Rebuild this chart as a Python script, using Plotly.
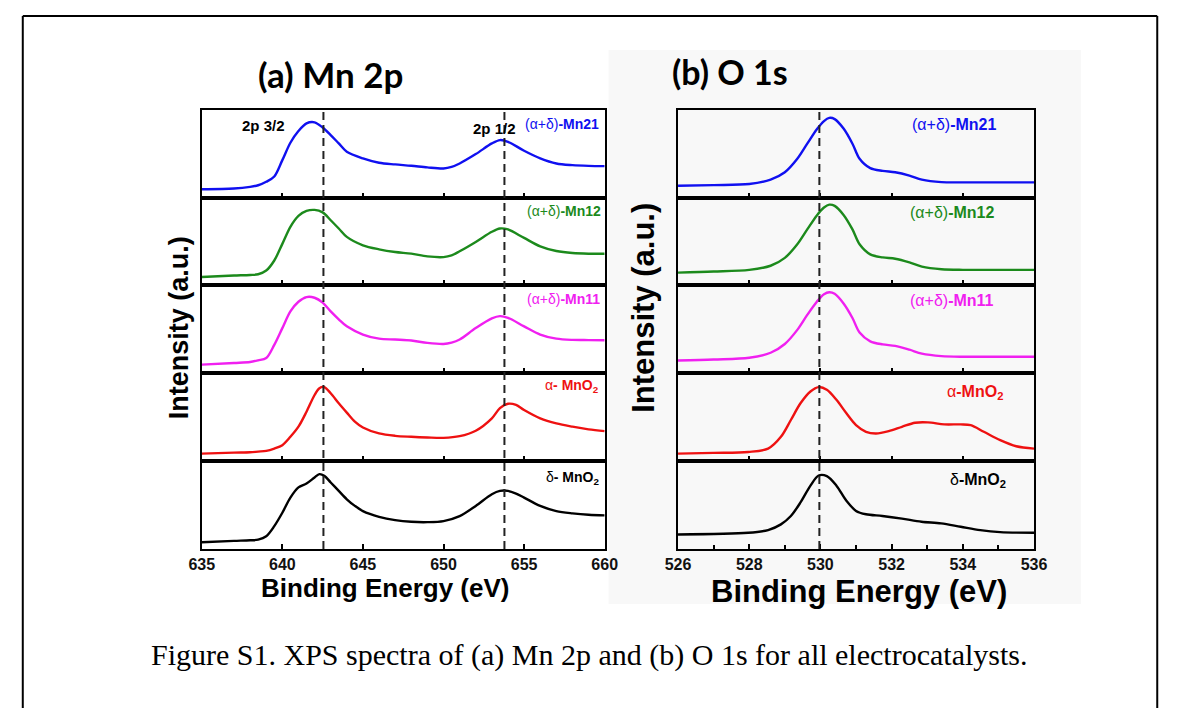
import plotly.graph_objects as go

W, H = 1181, 708

# ---------------- data ----------------
# (a) Mn 2p
be_mn = [635, 637, 638, 638.5, 639, 639.5, 640, 640.5, 641, 641.5, 642, 642.5, 643, 643.5, 644,
         645, 646, 647, 648, 649, 650, 650.5, 651, 652, 653, 653.5, 654, 655, 656, 657, 658, 659, 660]
mn_mn21 = [9.5, 10.3, 12.2, 14, 18, 24, 42.7, 62.6, 76, 84.7, 85.9, 80, 71.4, 61.8, 52.3,
           44.7, 39.7, 37.8, 36.3, 34.4, 33.2, 35, 38.9, 49.6, 61.8, 65.6, 63.7, 53.4, 44.7, 38.9, 37, 36.2, 35.9]
mn_mn12 = [9.2, 10.8, 11.5, 12.3, 16.5, 28, 47, 66.5, 79, 84.6, 85.8, 83, 74, 64.6, 55,
           45.4, 40.8, 37.7, 35.8, 32.7, 31.9, 33.8, 38.5, 49.2, 60.8, 64.6, 63.5, 53.8, 44.2, 38.8, 36.5, 35.8, 35.8]
mn_mn11 = [9.5, 11.4, 12.5, 14.4, 17, 32, 51, 70, 81, 86.3, 85.5, 80, 70, 61, 53,
           43.7, 39, 38, 36.9, 34.2, 33, 34.5, 38, 51, 62, 64.6, 62.7, 53, 43.7, 39, 37.6, 37.4, 37.3]
be_mn2 = [635, 637, 638, 638.5, 639, 639.5, 640, 640.5, 641, 641.5, 642, 642.3, 642.6, 643, 643.5, 644, 644.5,
          645, 646, 647, 648, 649, 650, 651, 652, 653, 653.5, 654, 654.5, 655, 656, 657, 658, 659, 660]
mn_alpha = [8.4, 9.5, 9.9, 10.7, 11.5, 14.1, 18, 27.5, 39, 56, 75, 82.8, 84, 77, 65.6, 55, 44.7,
            38, 31.3, 28.6, 27.5, 26.7, 26.3, 28.2, 34.4, 48.5, 60, 65, 63.7, 58, 48.5, 42.7, 39, 36, 34]
mn_delta = [7.6, 9.2, 9.9, 10.7, 14.5, 26, 41.2, 58.4, 70, 74.4, 81.3, 85.1, 83.2, 75.6, 66, 56.5, 49,
            43.1, 36.6, 32.8, 30.9, 30.5, 31.7, 37.4, 48.9, 62.2, 66, 66, 63, 58.4, 48.9, 43.1, 40.5, 38.9, 38.2]
mn_ref_lines = [642.55, 653.78]
mn_ticks = [640, 645, 650, 655]
mn_labels = [635, 640, 645, 650, 655, 660]

# (b) O 1s
be_o = [526, 527, 528, 528.6, 529, 529.35, 529.63, 529.9, 530.1, 530.25, 530.4, 530.65, 530.9,
        531.1, 531.4, 531.75, 532.1, 532.5, 532.85, 533.4, 534, 535, 536]
o_mn21 = [13.5, 14.2, 15.4, 20.4, 28.8, 44.2, 61.5, 78, 87.3, 91, 89.6, 78.8, 61.5,
          44.2, 33.5, 30.4, 28.8, 25, 20.4, 17.6, 17.3, 17.3, 17.3]
o_mn12 = [14.2, 15.4, 17.3, 22, 31, 46.5, 63.5, 79.5, 88.5, 91.8, 90.4, 80, 63.5,
          46.5, 35, 31.5, 30, 25.8, 21, 18, 17.3, 17.3, 17.3]
o_mn11 = [14.2, 15.4, 17.3, 23, 33, 49, 66, 81, 89.5, 91.8, 90, 79, 62.5,
          46, 36, 32.5, 30.8, 26.5, 22, 19.2, 18.5, 18.5, 18.5]
be_o2 = [526, 527, 527.97, 528.53, 528.89, 529.17, 529.44, 529.72, 529.95, 530.18, 530.45, 530.73, 531.0,
         531.28, 531.56, 531.92, 532.29, 532.66, 533.02, 533.48, 533.94, 534.22, 534.59, 535.05, 535.5, 536]
o_alpha = [8.4, 9.2, 10.3, 14.1, 27.5, 46.6, 65.6, 79, 84, 80.9, 69.5, 54.2, 40.8,
           33.2, 31.3, 34, 38.9, 43.5, 43.9, 41.6, 41.6, 40.8, 33.2, 23.7, 16.8, 14.1]
be_o3 = [526, 527.97, 528.53, 528.89, 529.17, 529.44, 529.72, 529.95, 530.18, 530.45, 530.73,
         531.0, 531.28, 531.74, 532.29, 532.84, 533.39, 533.94, 534.49, 535.05, 536]
o_delta = [16.5, 18.4, 21.5, 28, 37.5, 52.9, 72, 83.5, 82.8, 72, 54.8,
           43.3, 39.5, 37.5, 34.5, 31, 29.1, 25.3, 21.5, 19.2, 18.4]
o_ref_lines = [529.97]
o_ticks = [528, 530, 532, 534]
o_labels = [526, 528, 530, 532, 534, 536]

series_names = ["(α+δ)-Mn21", "(α+δ)-Mn12", "(α+δ)-Mn11", "α-MnO2", "δ-MnO2"]
colors = ["#1010f0", "#1c8a1c", "#f020f0", "#ee1111", "#000000"]

mn_x = [be_mn, be_mn, be_mn, be_mn2, be_mn2]
mn_y = [mn_mn21, mn_mn12, mn_mn11, mn_alpha, mn_delta]
o_x = [be_o, be_o, be_o, be_o2, be_o3]
o_y = [o_mn21, o_mn12, o_mn11, o_alpha, o_delta]

# ---------------- layout geometry (pixels) ----------------
row_px = [110, 197.5, 285, 373, 461, 549]
left_px = (193, 605)
right_px = (680, 1044)


def px(x):
    return x / W


def py(y):
    return 1 - y / H


fig = go.Figure()
layout = dict(
    width=W, height=H, autosize=False, margin=dict(l=0, r=0, t=0, b=0),
    paper_bgcolor="white", plot_bgcolor="rgba(0,0,0,0)", showlegend=False,
)

ax_common = dict(showline=True, mirror=True, linecolor="black", linewidth=2,
                 showgrid=False, zeroline=False)
tick_font = dict(family="Liberation Sans", size=16, color="#111", weight="bold")

for panel in range(2):
    xs_all = mn_x if panel == 0 else o_x
    ys_all = mn_y if panel == 0 else o_y
    xr = [635, 660] if panel == 0 else [526, 536]
    dom = left_px if panel == 0 else right_px
    for r in range(5):
        idx = panel * 5 + r + 1
        sfx = "" if idx == 1 else str(idx)
        fig.add_trace(go.Scatter(
            x=xs_all[r], y=ys_all[r], mode="lines",
            line=dict(color=colors[r], width=2.4, shape="spline", smoothing=0.9),
            xaxis="x" + sfx, yaxis="y" + sfx, name=series_names[r]))
        bottom = r == 4
        xa = dict(ax_common, domain=[px(dom[0]), px(dom[1])], range=xr,
                  anchor="y" + sfx, ticks="inside", ticklen=5, tickwidth=1.5,
                  tickcolor="black", showticklabels=bottom, tickfont=tick_font)
        if panel == 0:
            xa["tickvals"] = mn_labels if bottom else mn_ticks
        else:
            xa["tickvals"] = o_labels if bottom else o_ticks
            if bottom:
                xa["minor"] = dict(ticks="inside", dtick=1, tick0=526, ticklen=4,
                                   tickwidth=1.5, tickcolor="black")
        ya = dict(ax_common, domain=[py(row_px[r + 1]), py(row_px[r])], range=[0, 100],
                  anchor="x" + sfx, ticks="", showticklabels=False)
        layout["xaxis" + sfx] = xa
        layout["yaxis" + sfx] = ya

shapes = []
# light gray background of the pasted right figure
shapes.append(dict(type="rect", xref="paper", yref="paper", x0=px(609), x1=px(1092),
                   y0=py(604), y1=py(50), fillcolor="#f8f8f8", line=dict(width=0), layer="below"))
# outer frame
shapes.append(dict(type="line", xref="paper", yref="paper", x0=px(10), x1=px(1170),
                   y0=py(16), y1=py(16), line=dict(color="black", width=2)))
shapes.append(dict(type="line", xref="paper", yref="paper", x0=px(10), x1=px(10),
                   y0=py(16), y1=0, line=dict(color="black", width=2)))
shapes.append(dict(type="line", xref="paper", yref="paper", x0=px(1170), x1=px(1170),
                   y0=py(16), y1=0, line=dict(color="black", width=2)))
# dashed reference lines
for v in mn_ref_lines:
    shapes.append(dict(type="line", xref="x5", yref="paper", x0=v, x1=v,
                       y0=py(row_px[5]), y1=py(row_px[0]),
                       line=dict(color="#222", width=2, dash="8px,5px")))
for v in o_ref_lines:
    shapes.append(dict(type="line", xref="x10", yref="paper", x0=v, x1=v,
                       y0=py(row_px[5]), y1=py(row_px[0]),
                       line=dict(color="#222", width=2, dash="8px,5px")))
layout["shapes"] = shapes

ann = []


def add_text(text, x, y, size, family="Liberation Sans", color="black", xanchor="center",
             textangle=0):
    ann.append(dict(text=text, x=px(x), y=py(y), xref="paper", yref="paper",
                    showarrow=False, xanchor=xanchor, yanchor="middle",
                    font=dict(family=family, size=size, color=color), textangle=textangle))


add_text("<b>(a) Mn 2p</b>", 325, 74, 35, family="Lato")
add_text("<b>(b) O 1s</b>", 733, 72, 34, family="Lato")
add_text("<b>Intensity (a.u.)</b>", 170, 328, 27, textangle=-90)
add_text("<b>Intensity (a.u.)</b>", 644, 308, 31, textangle=-90)
add_text("<b>Binding Energy (eV)</b>", 380, 588, 26)
add_text("<b>Binding Energy (eV)</b>", 865, 591, 31)
add_text("<b>2p 3/2</b>", 256, 126, 15)
add_text("<b>2p 1/2</b>", 492, 128, 15)

left_lab = [
    ("(α+δ)<b>-Mn21</b>", 601, 124),
    ("(α+δ)<b>-Mn12</b>", 603, 211),
    ("(α+δ)<b>-Mn11</b>", 602, 299),
    ("α<b>- MnO<sub>2</sub></b>", 601, 386),
    ("δ<b>- MnO<sub>2</sub></b>", 601, 478),
]
right_lab = [
    ("(α+δ)<b>-Mn21</b>", 962, 124),
    ("(α+δ)<b>-Mn12</b>", 960, 212),
    ("(α+δ)<b>-Mn11</b>", 960, 300),
    ("α<b>-MnO<sub>2</sub></b>", 984, 392),
    ("δ<b>-MnO<sub>2</sub></b>", 987, 480),
]
for i, (t, x, y) in enumerate(left_lab):
    add_text(t, x, y, 14, color=colors[i], xanchor="right")
for i, (t, x, y) in enumerate(right_lab):
    add_text(t, x, y, 16, color=colors[i])

add_text("Figure S1. XPS spectra of (a) Mn 2p and (b) O 1s for all electrocatalysts.",
         589, 655, 30, family="Liberation Serif")

layout["annotations"] = ann
fig.update_layout(**layout)
fig.write_html("out.html", config={"responsive": False, "displayModeBar": False},
               post_script="document.body.style.margin='0';document.body.style.overflow='hidden';")
